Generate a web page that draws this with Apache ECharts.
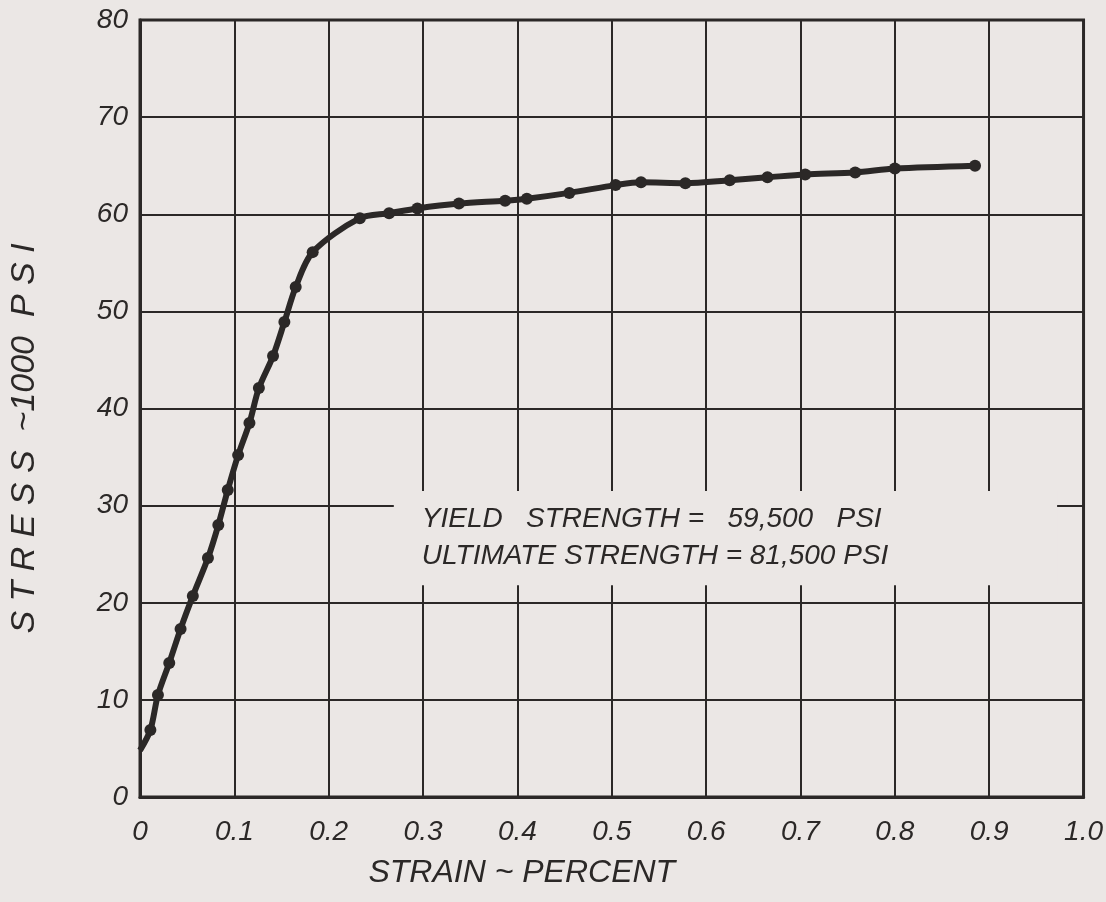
<!DOCTYPE html>
<html>
<head>
<meta charset="utf-8">
<script src="https://cdn.jsdelivr.net/npm/echarts@6/dist/echarts.min.js"></script>
<style>
  html, body { margin: 0; padding: 0; background: #ebe7e5; }
  #chart { width: 1106px; height: 902px; }
</style>
</head>
<body>
<div id="chart"></div>
<script>
// 应力-应变曲线
const strain = [0, 0.011, 0.019, 0.031, 0.043, 0.056, 0.072, 0.083, 0.093, 0.104, 0.116,
  0.126, 0.141, 0.153, 0.165, 0.183, 0.233, 0.264, 0.294, 0.338, 0.387, 0.41,
  0.455, 0.504, 0.531, 0.578, 0.625, 0.665, 0.705, 0.758, 0.8, 0.885]
const stress = [4.8, 6.9, 10.5, 13.8, 17.3, 20.7, 24.6, 28.0, 31.6, 35.2, 38.5,
  42.1, 45.4, 48.9, 52.5, 56.1, 59.6, 60.1, 60.6, 61.1, 61.4, 61.6,
  62.2, 63.0, 63.3, 63.2, 63.5, 63.8, 64.1, 64.3, 64.7, 65.0]

const xTicks = ['0', '0.1', '0.2', '0.3', '0.4', '0.5', '0.6', '0.7', '0.8', '0.9', '1.0']
const yTicks = ['0', '10', '20', '30', '40', '50', '60', '70', '80']

const noteLines = ['YIELD   STRENGTH =   59,500   PSI', 'ULTIMATE STRENGTH = 81,500 PSI']
// 注释框的数据范围
const noteBox = [[0.269, 31.5], [0.972, 21.8]]

const ink = '#2b2827'
const paper = '#ebe7e5'
const font = 'Liberation Sans'

const chart = echarts.init(document.getElementById('chart'))

const points = strain.map((x, i) => {
  // 第一个点只是曲线起点，没有圆点
  if (i === 0) return { value: [x, stress[i]], symbolSize: 0 }
  return [x, stress[i]]
})

const option = {
  backgroundColor: paper,
  animation: false,
  grid: {
    left: 140,
    right: 19,
    top: 20,
    bottom: 105,
    show: true,
    borderColor: ink,
    borderWidth: 3
  },
  xAxis: {
    type: 'value',
    min: 0,
    max: 1,
    interval: 0.1,
    name: 'STRAIN ~ PERCENT',
    nameLocation: 'middle',
    nameGap: 60,
    nameTextStyle: {
      fontFamily: font,
      fontStyle: 'italic',
      fontSize: 32,
      color: ink,
      padding: [0, 180, 0, 0]
    },
    axisLine: { lineStyle: { color: ink, width: 3 } },
    axisTick: { show: false },
    splitLine: { show: true, lineStyle: { color: ink, width: 2 } },
    axisLabel: {
      margin: 21,
      fontFamily: font,
      fontStyle: 'italic',
      fontSize: 28,
      color: ink,
      formatter: (v) => xTicks[Math.round(v * 10)]
    }
  },
  yAxis: {
    type: 'value',
    min: 0,
    max: 80,
    interval: 10,
    name: 'S T R E S S  ~1000  P S I',
    nameLocation: 'middle',
    nameGap: 98,
    nameTextStyle: {
      fontFamily: font,
      fontStyle: 'italic',
      fontSize: 34,
      color: ink,
      padding: [0, 60, 0, 0]
    },
    axisLine: { lineStyle: { color: ink, width: 3 } },
    axisTick: { show: false },
    splitLine: { show: true, lineStyle: { color: ink, width: 2 } },
    axisLabel: {
      margin: 12,
      fontFamily: font,
      fontStyle: 'italic',
      fontSize: 28,
      color: ink,
      formatter: (v) => yTicks[Math.round(v / 10)]
    }
  },
  series: [
    {
      type: 'line',
      data: points,
      smooth: 0.3,
      symbol: 'circle',
      symbolSize: 12,
      showSymbol: true,
      lineStyle: { color: ink, width: 6 },
      itemStyle: { color: ink },
      markArea: {
        silent: true,
        itemStyle: { color: paper },
        label: {
          show: true,
          position: 'insideLeft',
          distance: 28,
          fontFamily: font,
          fontStyle: 'italic',
          fontSize: 28,
          lineHeight: 37,
          color: ink,
          formatter: noteLines.join('\n')
        },
        data: [[{ coord: noteBox[0] }, { coord: noteBox[1] }]]
      }
    }
  ]
}

chart.setOption(option)
</script>
</body>
</html>
